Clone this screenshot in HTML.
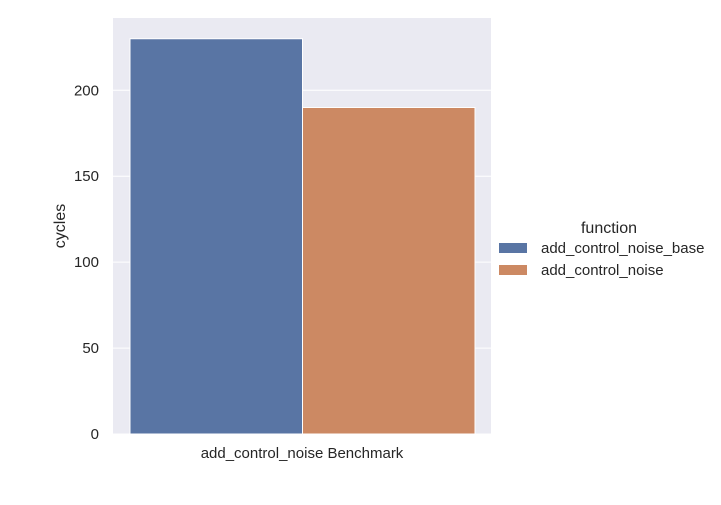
<!DOCTYPE html>
<html><head><meta charset="utf-8"><style>
body{margin:0;background:#fff;}
text{font-family:"Liberation Sans",Arial,sans-serif;fill:#262626;}
</style></head><body>
<svg id="chart" width="721" height="500">
<rect x="113" y="18" width="378" height="416" fill="#eaeaf2"/>
<g id="grid"></g>
<g id="bars"></g>
<g id="yticks"></g>
<text x="302" y="458" text-anchor="middle" font-size="15">add_control_noise Benchmark</text>
<text transform="translate(65,226) rotate(-90)" text-anchor="middle" font-size="16">cycles</text>
<text x="609" y="233" text-anchor="middle" font-size="16">function</text>
<g><rect x="499" y="243" width="28" height="10" fill="#5975a4"/><text x="541" y="253" font-size="15">add_control_noise_base</text></g>
<g><rect x="499" y="265" width="28" height="10" fill="#cc8963"/><text x="541" y="275" font-size="15">add_control_noise</text></g>
</svg>
<script>
const series = ["add_control_noise_base","add_control_noise"];
const values = [230, 190];
const colors = ["#5975a4","#cc8963"];
const ticks = [0,50,100,150,200];
const NS="http://www.w3.org/2000/svg";
const y0=434, pxPer=(434-90.3)/200;
function y(v){return y0-v*pxPer;}
function xb(i){return 130+i*172.5;}
const grid=document.getElementById('grid'), yt=document.getElementById('yticks'), bars=document.getElementById('bars');
ticks.forEach(t=>{
  const l=document.createElementNS(NS,'line');
  l.setAttribute('x1',113);l.setAttribute('x2',491);l.setAttribute('y1',y(t));l.setAttribute('y2',y(t));
  l.setAttribute('stroke','#fff');l.setAttribute('stroke-width','1');
  
  
  grid.appendChild(l);
  const tx=document.createElementNS(NS,'text');
  tx.setAttribute('x',99);tx.setAttribute('y',y(t)+5);tx.setAttribute('text-anchor','end');tx.setAttribute('font-size','15');
  tx.textContent=t;
  
  
  yt.appendChild(tx);
});
values.forEach((v,i)=>{
  const r=document.createElementNS(NS,'rect');
  r.setAttribute('x',xb(i));r.setAttribute('width',172.5);r.setAttribute('y',y(v));r.setAttribute('height',y0-y(v));
  r.setAttribute('fill',colors[i]);r.setAttribute('stroke','#fff');r.setAttribute('stroke-width','1');
  
  
  bars.appendChild(r);
});
</script>
</body></html>
